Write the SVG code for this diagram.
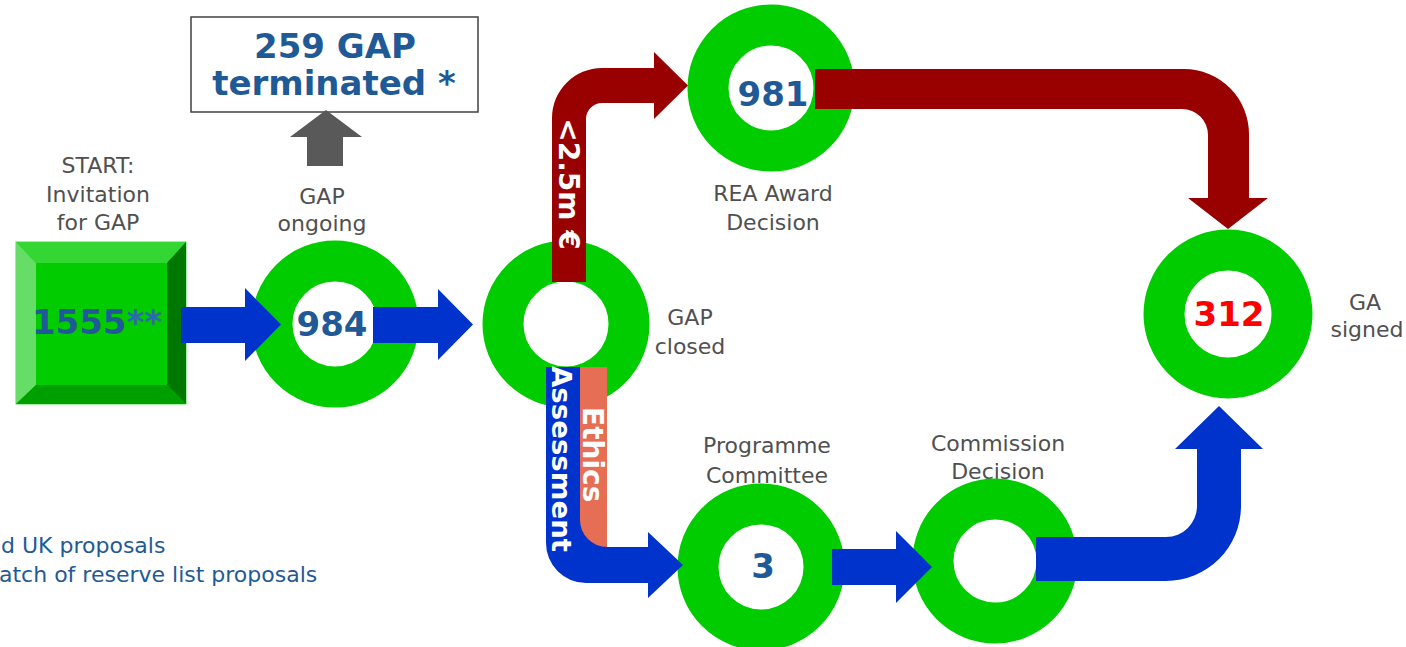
<svg xmlns="http://www.w3.org/2000/svg" width="1406" height="647" viewBox="0 0 1406 647">
<style>
.ring{fill:none;stroke:#00cc00;stroke-width:41}
.num{font-family:"DejaVu Sans",Verdana,sans-serif;font-weight:bold;font-size:34px;fill:#1f5a96;text-anchor:middle}
.lbl{font-family:"DejaVu Sans",Verdana,sans-serif;font-size:22px;fill:#505050;text-anchor:middle}
.blue{fill:#0033cc}
.red{fill:#990000}
.wt{font-family:"DejaVu Sans",Verdana,sans-serif;font-weight:bold;fill:#ffffff}
.note{font-family:"DejaVu Sans",Verdana,sans-serif;font-size:22px;fill:#1f5a96}
</style>
<rect width="1406" height="647" fill="#ffffff"/>

<g id="start">
<text class="lbl" x="98" y="173">START:</text>
<text class="lbl" x="98" y="202">Invitation</text>
<text class="lbl" x="98" y="230">for GAP</text>
<rect x="16" y="242" width="170" height="162" fill="#00cc00" stroke="#55dd55" stroke-width="1"/>
<polygon points="16,242 186,242 167,263 36,263" fill="#33d633"/>
<polygon points="16,242 36,263 36,385 16,404" fill="#66dd66"/>
<polygon points="186,242 186,404 167,385 167,263" fill="#007700"/>
<polygon points="16,404 186,404 167,385 36,385" fill="#009f00"/>
<text class="num" x="97" y="334" font-size="32">1555<tspan fill="#2a6ab0">**</tspan></text>
</g>

<g id="terminated">
<rect x="191" y="17" width="287" height="95" fill="#ffffff" stroke="#404040" stroke-width="1.5"/>
<text class="num" x="335" y="58" font-size="32">259 GAP</text>
<text class="num" x="334" y="95" font-size="32">terminated *</text>
</g>

<g id="gap-ongoing">
<text class="lbl" x="322" y="204">GAP</text>
<text class="lbl" x="322" y="231">ongoing</text>
<circle class="ring" cx="335" cy="324" r="63"/>
<text class="num" x="332" y="336">984</text>
</g>

<g id="gap-closed">
<circle class="ring" cx="566" cy="324" r="63"/>
<text class="lbl" x="690" y="325">GAP</text>
<text class="lbl" x="690" y="354">closed</text>
</g>

<g id="rea-award">
<circle class="ring" cx="771" cy="88" r="63"/>
<text class="num" x="773" y="106">981</text>
<text class="lbl" x="773" y="201">REA Award</text>
<text class="lbl" x="773" y="230">Decision</text>
</g>

<g id="programme-committee">
<text class="lbl" x="767" y="453">Programme</text>
<text class="lbl" x="767" y="483">Committee</text>
<circle class="ring" cx="761" cy="567" r="63"/>
<text class="num" x="763" y="578">3</text>
</g>

<g id="commission-decision">
<text class="lbl" x="998" y="451">Commission</text>
<text class="lbl" x="998" y="479">Decision</text>
<circle class="ring" cx="995" cy="561" r="62"/>
</g>

<g id="ga-signed">
<circle class="ring" cx="1228" cy="314" r="64"/>
<text class="num" x="1229" y="326" style="fill:#ff0000">312</text>
<text class="lbl" x="1365" y="310">GA</text>
<text class="lbl" x="1367" y="337">signed</text>
</g>

<g id="connectors">
<path class="blue" d="M181,307 H245 V288 L281,324.5 L245,361 V343 H181 Z"/>
<path class="blue" d="M373,307 H438 V289 L473,324.5 L438,360 V343 H373 Z"/>
<path d="M307,166 V137 H290 L326,110 L362,137 H343 V166 Z" fill="#595959"/>
<path class="red" d="M552,282 V118 A50,50 0 0 1 602,68 H654 V52 L688,85.5 L654,119 V103 H602 A16,16 0 0 0 586,119 V282 Z"/>
<text class="wt" font-size="28" text-anchor="middle" transform="translate(559,184) rotate(90)">&lt;2.5m €</text>
<path class="red" d="M815,69 H1184 A65,65 0 0 1 1249,134 V198 H1268 L1228,229 L1188,198 H1208 V135 A26,26 0 0 0 1182,109 H815 Z"/>
<path class="blue" d="M546,367 V543 A40,40 0 0 0 586,583 H648 V598 L683,565 L648,532 V547 H607 V367 Z"/>
<path d="M580,367 H607 V547 A27,27 0 0 1 580,520 Z" fill="#e66e55"/>
<text class="wt" font-size="27" textLength="186" lengthAdjust="spacingAndGlyphs" transform="translate(552,366) rotate(90)">Assessment</text>
<text class="wt" font-size="28" transform="translate(583,407) rotate(90)">Ethics</text>
<path class="blue" d="M832,549 H896 V531 L932,567 L896,603 V585 H832 Z"/>
<path class="blue" d="M1036,537 H1166 A31,31 0 0 0 1197,506 V449 H1175 L1219,406 L1263,449 H1241 V506 A75,75 0 0 1 1166,581 H1036 Z"/>
</g>

<text class="note" x="1" y="553">d UK proposals</text>
<text class="note" x="-1" y="582">atch of reserve list proposals</text>
</svg>
